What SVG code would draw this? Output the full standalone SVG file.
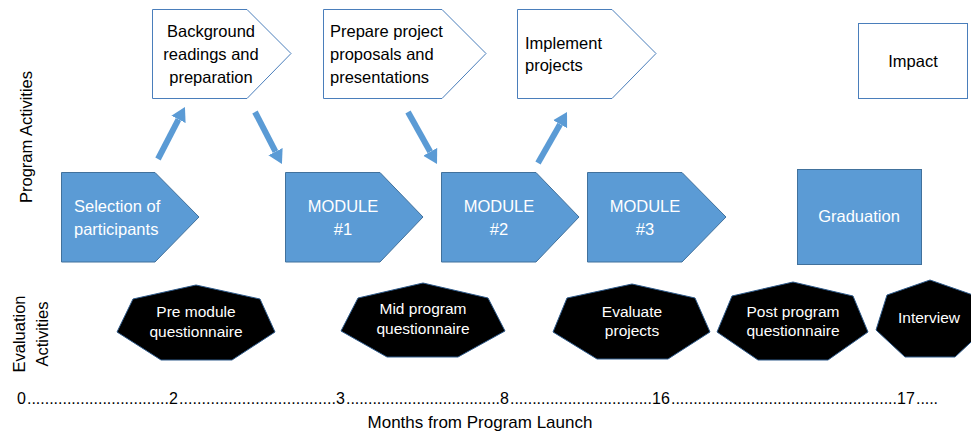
<svg xmlns="http://www.w3.org/2000/svg" width="971" height="432" viewBox="0 0 971 432">
<style>
text{font-family:"Liberation Sans",Arial,sans-serif;}
.t{font-size:16.5px;fill:#000;}
.tw{font-size:16.5px;fill:#fff;}
.h{font-size:15.5px;fill:#fff;text-anchor:middle;}
.c{text-anchor:middle;}
.white{fill:#fff;stroke:#4a7ebb;stroke-width:1;}
.blue{fill:#5b9bd5;stroke:#41719c;stroke-width:1;}
.hept{fill:#000;stroke:#2e5a8a;stroke-width:1;}
.arr{stroke:#5b9bd5;stroke-width:6;fill:none;}
.ax{font-size:16px;fill:#000;}
</style>
<defs>
<marker id="ah" markerUnits="userSpaceOnUse" markerWidth="16" markerHeight="18" refX="0" refY="8" orient="auto" viewBox="0 0 16 16">
<path d="M0,0 L14,8 L0,16 Z" fill="#5b9bd5"/>
</marker>
</defs>
<rect width="971" height="432" fill="#fff"/>

<text class="t c" transform="translate(32,137) rotate(-90)">Program Activities</text>
<text class="t c" transform="translate(25,334) rotate(-90)">Evaluation</text>
<text class="t c" transform="translate(48,334) rotate(-90)">Activities</text>

<g id="background">
<polygon class="white" points="152.5,9.5 247,9.5 291,53.5 247,98.5 152.5,98.5"/>
<text class="t c" x="211" y="37">Background</text>
<text class="t c" x="211" y="60">readings and</text>
<text class="t c" x="211" y="83">preparation</text>
</g>
<g id="prepare">
<polygon class="white" points="323.5,9.5 442,9.5 486,53.5 442,98.5 323.5,98.5"/>
<text class="t" x="330" y="37">Prepare project</text>
<text class="t" x="330" y="60">proposals and</text>
<text class="t" x="330" y="83">presentations</text>
</g>
<g id="implement">
<polygon class="white" points="517.5,9.5 612,9.5 656,53.5 612,98.5 517.5,98.5"/>
<text class="t" x="525" y="49">Implement</text>
<text class="t" x="525" y="71">projects</text>
</g>
<g id="impact">
<rect class="white" x="858.5" y="23.5" width="109" height="75"/>
<text class="t c" x="913" y="67">Impact</text>
</g>

<g id="selection">
<polygon class="blue" points="61.5,172.5 155,172.5 199,217 155,262 61.5,262"/>
<text class="tw" x="74" y="212">Selection of</text>
<text class="tw" x="74" y="235">participants</text>
</g>
<g id="module1">
<polygon class="blue" points="285.5,172.5 380,172.5 423,217 380,262 285.5,262"/>
<text class="tw c" x="343" y="212">MODULE</text>
<text class="tw c" x="343" y="235">#1</text>
</g>
<g id="module2">
<polygon class="blue" points="441.5,172.5 536,172.5 579,217 536,262 441.5,262"/>
<text class="tw c" x="499" y="212">MODULE</text>
<text class="tw c" x="499" y="235">#2</text>
</g>
<g id="module3">
<polygon class="blue" points="587.5,172.5 682,172.5 726,217 682,262 587.5,262"/>
<text class="tw c" x="645" y="212">MODULE</text>
<text class="tw c" x="645" y="235">#3</text>
</g>
<g id="graduation">
<rect class="blue" x="797.5" y="169.5" width="124" height="95"/>
<text class="tw c" x="859" y="222">Graduation</text>
</g>

<g id="connectors">
<path class="arr" d="M158,159 L178.5,119.4" marker-end="url(#ah)"/>
<path class="arr" d="M255,112 L275.5,151.6" marker-end="url(#ah)"/>
<path class="arr" d="M408,112 L430.2,151.8" marker-end="url(#ah)"/>
<path class="arr" d="M538,163 L560.1,124.2" marker-end="url(#ah)"/>
</g>

<g id="pre-module">
<polygon class="hept" points="196,285 133,299 117,332 161,360 232,360 275,332 260,299"/>
<text class="h" x="196" y="317">Pre module</text>
<text class="h" x="196" y="337">questionnaire</text>
</g>
<g id="mid-program">
<polygon class="hept" points="423,283 358,298 341,331 387,357 458,357 505,331 488,298"/>
<text class="h" x="423" y="314">Mid program</text>
<text class="h" x="423" y="334">questionnaire</text>
</g>
<g id="evaluate">
<polygon class="hept" points="632,284 567,298 553,332 597,359 668,359 710,332 695,298"/>
<text class="h" x="632" y="317">Evaluate</text>
<text class="h" x="632" y="336">projects</text>
</g>
<g id="post-program">
<polygon class="hept" points="793,282 732,296 717,332 758,360 828,360 868,332 853,296"/>
<text class="h" x="793" y="317">Post program</text>
<text class="h" x="793" y="336">questionnaire</text>
</g>
<g id="interview">
<polygon class="hept" points="930,280 887,295 876,330 905,357 955,357 984,330 973,295"/>
<text class="h" x="929" y="323">Interview</text>
</g>

<g id="axis">
<text class="ax" x="17" y="404">0</text>
<text class="ax" x="27" y="404" textLength="142" lengthAdjust="spacing">................................</text>
<text class="ax" x="169" y="404">2</text>
<text class="ax" x="179" y="404" textLength="157" lengthAdjust="spacing">...................................</text>
<text class="ax" x="336" y="404">3</text>
<text class="ax" x="346" y="404" textLength="154" lengthAdjust="spacing">...................................</text>
<text class="ax" x="500" y="404">8</text>
<text class="ax" x="510" y="404" textLength="142" lengthAdjust="spacing">................................</text>
<text class="ax" x="652" y="404">16</text>
<text class="ax" x="671" y="404" textLength="226" lengthAdjust="spacing">...................................................</text>
<text class="ax" x="897" y="404">17</text>
<text class="ax" x="916" y="404" textLength="22" lengthAdjust="spacing">.....</text>
<text class="c" style="font-size:17px" x="480" y="428">Months from Program Launch</text>
</g>
</svg>
